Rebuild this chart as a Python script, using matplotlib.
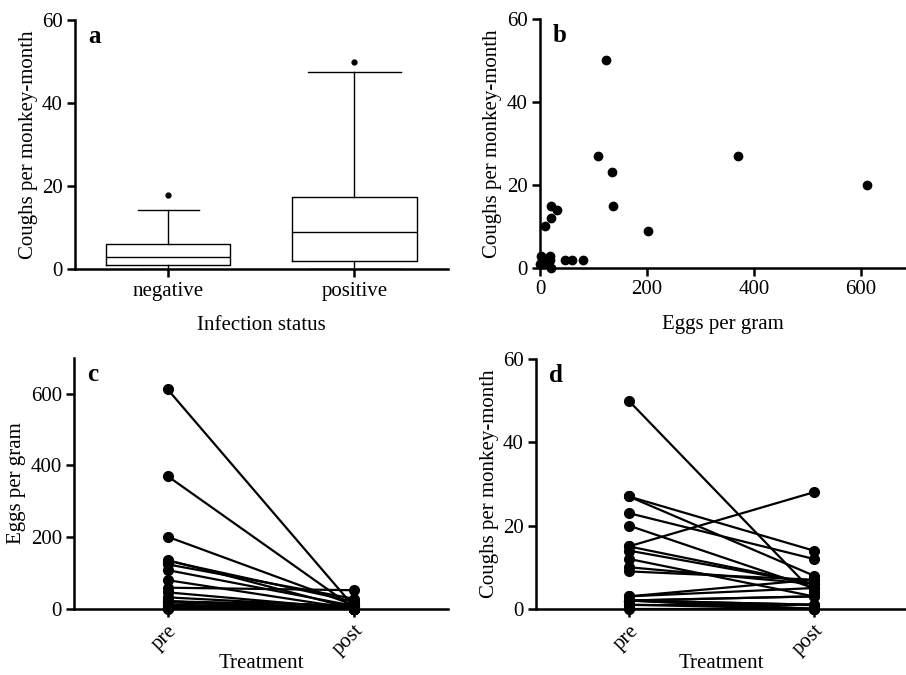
import numpy as np
import matplotlib
matplotlib.use("Agg")
import matplotlib.pyplot as plt

plt.rcParams['font.family'] = ['Liberation Serif', 'DejaVu Serif']

# panel a: box plot summary (coughs per monkey-month)
groups = ['negative', 'positive']
box_low = [0, 0]
box_q1 = [1, 2]
box_med = [3, 9]
box_q3 = [6, 17.5]
box_high = [14.3, 47.5]
box_outliers = [[18], [50]]

# per-monkey values (panels b, c, d)
eggs_pre = [612, 370, 201, 136, 134, 124, 108, 80, 59, 46, 32, 21, 21, 21, 19, 19, 9, 5, 2, 0, 3, 12]
coughs_pre = [20, 27, 9, 15, 23, 50, 27, 2, 2, 2, 14, 15, 12, 0, 3, 2, 10, 1, 3, 1, 2, 2]
eggs_post = [5, 2, 10, 0, 20, 28, 8, 0, 52, 0, 5, 0, 10, 0, 0, 0, 0, 0, 0, 0, 0, 0]
coughs_post = [5, 14, 7, 6, 12, 4, 8, 1, 3, 0, 6, 28, 3, 0, 5, 1, 6, 0, 7, 1, 3, 0]
treatments = ['pre', 'post']

fig = plt.figure(figsize=(9.06, 6.75), dpi=100)
ax_a = fig.add_axes([0.083, 0.601, 0.411, 0.369])
ax_b = fig.add_axes([0.596, 0.603, 0.404, 0.369])
ax_c = fig.add_axes([0.082, 0.098, 0.412, 0.372])
ax_d = fig.add_axes([0.592, 0.098, 0.408, 0.370])

tick_fs = 15
label_fs = 15


def style(ax):
    for s in ['top', 'right']:
        ax.spines[s].set_visible(False)
    for s in ['left', 'bottom']:
        ax.spines[s].set_linewidth(1.8)
    ax.tick_params(width=1.8, length=6, labelsize=tick_fs, direction='out', pad=3)


# a
stats = []
for i in range(len(groups)):
    stats.append({'whislo': box_low[i], 'q1': box_q1[i], 'med': box_med[i],
                  'q3': box_q3[i], 'whishi': box_high[i], 'fliers': box_outliers[i]})
ax_a.bxp(stats, positions=[1, 2], widths=0.667, capwidths=[0.33, 0.5],
         boxprops=dict(color='black', linewidth=1),
         medianprops=dict(color='black', linewidth=1),
         whiskerprops=dict(color='black', linewidth=1),
         capprops=dict(color='black', linewidth=1),
         flierprops=dict(marker='o', markerfacecolor='black', markeredgecolor='black', markersize=3.5))
ax_a.set_xlim(0.5, 2.5)
ax_a.set_ylim(0, 60)
ax_a.set_yticks([0, 20, 40, 60])
ax_a.set_xticks([1, 2])
ax_a.set_xticklabels(groups)
ax_a.set_ylabel('Coughs per monkey-month', fontsize=label_fs, labelpad=3)
ax_a.set_xlabel('Infection status', fontsize=label_fs, labelpad=11)
style(ax_a)

# b
ax_b.plot(eggs_pre, coughs_pre, 'o', color='black', markersize=6, clip_on=False)
ax_b.set_xlim(0, 684)
ax_b.set_ylim(0, 60)
ax_b.set_xticks([0, 200, 400, 600])
ax_b.set_yticks([0, 20, 40, 60])
ax_b.set_ylabel('Coughs per monkey-month', fontsize=label_fs, labelpad=3)
ax_b.set_xlabel('Eggs per gram', fontsize=label_fs, labelpad=11)
style(ax_b)

# c and d
for ax, pre, post in [(ax_c, eggs_pre, eggs_post), (ax_d, coughs_pre, coughs_post)]:
    for p0, p1 in zip(pre, post):
        ax.plot([1, 2], [p0, p1], '-o', color='black', linewidth=1.6, markersize=7, clip_on=False)
    ax.set_xlim(0.5, 2.5)
    ax.set_xticks([1, 2])
    ax.set_xticklabels(treatments, rotation=45, ha='right', rotation_mode='anchor')
    ax.set_xlabel('Treatment', fontsize=label_fs, labelpad=-4)
    style(ax)

ax_c.set_ylim(0, 700)
ax_c.set_yticks([0, 200, 400, 600])
ax_c.set_ylabel('Eggs per gram', fontsize=label_fs, labelpad=3)
ax_d.set_ylim(0, 60)
ax_d.set_yticks([0, 20, 40, 60])
ax_d.set_ylabel('Coughs per monkey-month', fontsize=label_fs, labelpad=3)

for ax, letter in [(ax_a, 'a'), (ax_b, 'b'), (ax_c, 'c'), (ax_d, 'd')]:
    ax.text(0.035, 0.935, letter, transform=ax.transAxes, fontsize=18,
            fontweight='bold', va='center', ha='left')

fig.savefig('out.png', dpi=100)
